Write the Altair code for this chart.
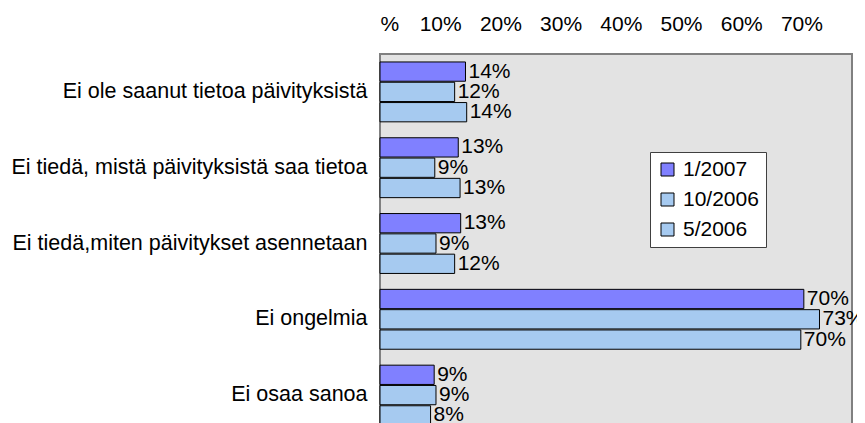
import altair as alt
import pandas as pd

categories = [
    "Ei ole saanut tietoa päivityksistä",
    "Ei tiedä, mistä päivityksistä saa tietoa",
    "Ei tiedä,miten päivitykset asennetaan",
    "Ei ongelmia",
    "Ei osaa sanoa",
]
series = ["1/2007", "10/2006", "5/2006"]
v_2007_01 = [0.142, 0.130, 0.134, 0.704, 0.090]
v_2006_10 = [0.124, 0.091, 0.093, 0.730, 0.093]
v_2006_05 = [0.144, 0.133, 0.124, 0.699, 0.084]
tick_values = [0.0, 0.1, 0.2, 0.3, 0.4, 0.5, 0.6, 0.7]
colors = ["#8080FF", "#A6CAF0", "#A6CAF0"]

rows = []
for s, vals in zip(series, [v_2007_01, v_2006_10, v_2006_05]):
    for c, v in zip(categories, vals):
        rows.append({"cat": c, "series": s, "value": v})
df = pd.DataFrame(rows)

FONT = "Liberation Sans"
FS = 21

y_enc = alt.Y(
    "cat:N",
    sort=categories,
    scale=alt.Scale(paddingInner=0.21, paddingOuter=0.105),
    axis=alt.Axis(
        title=None, domain=False, ticks=False, labelPadding=13,
        labelFontSize=21.5, labelFont=FONT, labelColor="#000000", labelLimit=500,
    ),
)
yoff_enc = alt.YOffset("series:N", sort=series, scale=alt.Scale(paddingInner=0.05, paddingOuter=0))
x_enc = alt.X(
    "value:Q",
    scale=alt.Scale(domain=[0, 0.784], nice=False, zero=True),
    axis=alt.Axis(
        orient="top", values=tick_values, title=None, grid=False, ticks=False, domain=False,
        labelPadding=20, labelFontSize=FS, labelFont=FONT, labelColor="#000000",
        labelExpr="datum.value == 0 ? '%' : format(datum.value, '.0%')",
    ),
)

bars = alt.Chart(df).mark_bar(stroke="#000000", strokeWidth=1).encode(
    y=y_enc,
    yOffset=yoff_enc,
    x=x_enc,
    color=alt.Color(
        "series:N",
        sort=series,
        scale=alt.Scale(domain=series, range=colors),
        legend=alt.Legend(
            title=None, orient="none", legendX=270, legendY=98,
            fillColor="#FFFFFF", strokeColor="#404040", padding=7,
            symbolType="square", symbolSize=169, symbolStrokeColor="#000000",
            symbolStrokeWidth=1, symbolOpacity=1,
            labelFontSize=FS, labelFont=FONT, labelColor="#000000", labelOffset=5,
            rowPadding=8,
        ),
    ),
)

labels = alt.Chart(df).mark_text(
    align="left", baseline="middle", dx=3, fontSize=FS, font=FONT, color="#000000"
).encode(
    y=alt.Y("cat:N", sort=categories),
    yOffset=alt.YOffset("series:N", sort=series),
    x=alt.X("value:Q"),
    text=alt.Text("value:Q", format=".0%"),
)

chart = (
    alt.layer(bars, labels)
    .properties(
        width=472,
        height=379,
        autosize=alt.AutoSizeParams(type="none"),
        padding={"left": 372, "top": 46, "right": 5, "bottom": 5},
        background="#FFFFFF",
    )
    .configure(font=FONT)
    .configure_view(stroke="#808080", strokeWidth=2, fill="#E3E3E3")
)

chart.save("out.html", embed_options={"renderer": "svg", "actions": False})
